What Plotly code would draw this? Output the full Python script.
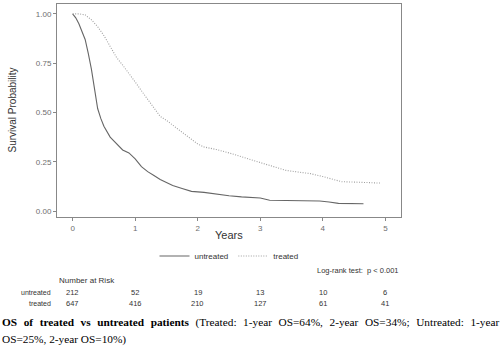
import plotly.graph_objects as go

# ---- data ----
untreated_t = [0, 0.05, 0.10, 0.15, 0.20, 0.25, 0.30, 0.35, 0.40, 0.45, 0.50, 0.60, 0.70, 0.80,
               0.90, 1.00, 1.10, 1.20, 1.30, 1.40, 1.50, 1.60, 1.75, 1.90, 2.10, 2.30, 2.50,
               2.70, 3.00, 3.15, 3.50, 3.95, 4.10, 4.25, 4.65]
untreated_s = [1.0, 0.98, 0.95, 0.91, 0.87, 0.80, 0.72, 0.62, 0.52, 0.47, 0.43, 0.375, 0.34, 0.31,
               0.295, 0.265, 0.225, 0.20, 0.18, 0.16, 0.145, 0.13, 0.115, 0.10, 0.095, 0.085, 0.078,
               0.072, 0.066, 0.055, 0.054, 0.051, 0.046, 0.039, 0.037]

treated_t = [0, 0.1, 0.2, 0.3, 0.4, 0.5, 0.6, 0.7, 0.8, 0.9, 1.0, 1.1, 1.2, 1.3, 1.4, 1.5, 1.6,
             1.8, 2.0, 2.1, 2.3, 2.5, 2.7, 3.0, 3.2, 3.4, 3.6, 3.8, 4.0, 4.1, 4.3, 4.6, 4.92]
treated_s = [1.0, 1.0, 0.995, 0.97, 0.935, 0.89, 0.835, 0.78, 0.74, 0.70, 0.655, 0.61, 0.565,
             0.525, 0.48, 0.46, 0.436, 0.385, 0.34, 0.325, 0.312, 0.295, 0.275, 0.244, 0.225,
             0.207, 0.198, 0.19, 0.175, 0.165, 0.149, 0.146, 0.142]

risk_times = [0, 1, 2, 3, 4, 5]
risk_untreated = [212, 52, 19, 13, 10, 6]
risk_treated = [647, 416, 210, 127, 61, 41]

y_ticks = [0, 0.25, 0.5, 0.75, 1.0]
y_ticklabels = ["0.00", "0.25", "0.50", "0.75", "1.00"]

caption_bold = "OS of treated vs untreated patients"
caption_line1 = "(Treated: 1-year OS=64%, 2-year OS=34%; Untreated: 1-year"
caption_line2 = "OS=25%, 2-year OS=10%)"

SANS = "Liberation Sans, Arial, sans-serif"
SERIF = "Liberation Serif, Times New Roman, serif"

fig = go.Figure()
fig.add_trace(go.Scatter(x=untreated_t, y=untreated_s, mode="lines", name="untreated",
                         line=dict(color="#666666", width=1.1, dash="solid")))
fig.add_trace(go.Scatter(x=treated_t, y=treated_s, mode="lines", name="treated",
                         line=dict(color="#a0a0a0", width=1.1, dash="1px,1.5px")))

W, H = 500, 357
L, R, T, B = 57, 99, 4, 140
pw = W - L - R
ph = H - T - B


def py(pix):
    # pixel y (from top) -> paper y
    return (H - B - pix) / ph


def px(pix):
    # pixel x (from left) -> paper x
    return (pix - L) / pw


def justify(s):
    # widen word gaps to imitate the justified caption line
    return s.replace(" ", " \u00a0\u200a")


ann = []
ann.append(dict(text="Years", x=2.5, xref="x", y=py(235), yref="paper", showarrow=False,
                font=dict(family=SANS, size=11, color="#333333"), xanchor="center", yanchor="middle"))
ann.append(dict(text="Survival Probability", x=px(12), xref="paper", y=0.5, yref="paper",
                showarrow=False, textangle=-90, font=dict(family=SANS, size=10, color="#333333"),
                xanchor="center", yanchor="middle"))
ann.append(dict(text="Log-rank test:  p < 0.001", x=1.0, xref="paper", y=py(270), yref="paper",
                showarrow=False, font=dict(family=SANS, size=7.5, color="#333333"),
                xanchor="right", yanchor="middle"))
ann.append(dict(text="Number at Risk", x=0, xref="paper", y=py(280), yref="paper",
                showarrow=False, font=dict(family=SANS, size=8, color="#333333"),
                xanchor="left", yanchor="middle"))
for label, vals, ypix in [("untreated", risk_untreated, 292), ("treated", risk_treated, 303)]:
    ann.append(dict(text=label, x=px(53), xref="paper", y=py(ypix), yref="paper",
                    showarrow=False, font=dict(family=SANS, size=7, color="#333333"),
                    xanchor="right", yanchor="middle"))
    for t, v in zip(risk_times, vals):
        ann.append(dict(text=str(v), x=t, xref="x", y=py(ypix), yref="paper", showarrow=False,
                        font=dict(family=SANS, size=7.5, color="#333333"),
                        xanchor="center", yanchor="middle"))

ann.append(dict(text="<b>" + justify(caption_bold) + "</b>" + justify(" " + caption_line1),
                x=px(0), xref="paper", y=py(322), yref="paper", showarrow=False,
                font=dict(family=SERIF, size=11.3, color="#000000"), xanchor="left", yanchor="middle"))
ann.append(dict(text=caption_line2,
                x=px(0), xref="paper", y=py(339), yref="paper", showarrow=False,
                font=dict(family=SERIF, size=11.3, color="#000000"), xanchor="left", yanchor="middle"))

fig.update_layout(
    width=W, height=H,
    margin=dict(l=L, r=R, t=T, b=B),
    paper_bgcolor="white", plot_bgcolor="white",
    font=dict(family=SANS, size=8, color="#4d4d4d"),
    showlegend=True,
    legend=dict(orientation="h", x=0.5, xanchor="center", y=py(256), yanchor="middle",
                font=dict(family=SANS, size=8, color="#333333"), itemwidth=30,
                bgcolor="rgba(0,0,0,0)"),
    annotations=ann,
    xaxis=dict(range=[-0.25, 5.25], tickvals=risk_times, ticks="outside", ticklen=3,
               tickcolor="#888888", showline=True, linecolor="#888888", linewidth=1, mirror=True,
               showgrid=False, zeroline=False, tickfont=dict(size=8, color="#6e6e6e")),
    yaxis=dict(range=[-0.03, 1.05], tickvals=y_ticks, ticktext=y_ticklabels, ticks="outside",
               ticklen=3, tickcolor="#888888", showline=True, linecolor="#888888", linewidth=1,
               mirror=True, showgrid=False, zeroline=False, tickfont=dict(size=8, color="#6e6e6e")),
)

fig.write_html("out.html", post_script="document.body.style.margin='0';",
               config={"displayModeBar": False})
